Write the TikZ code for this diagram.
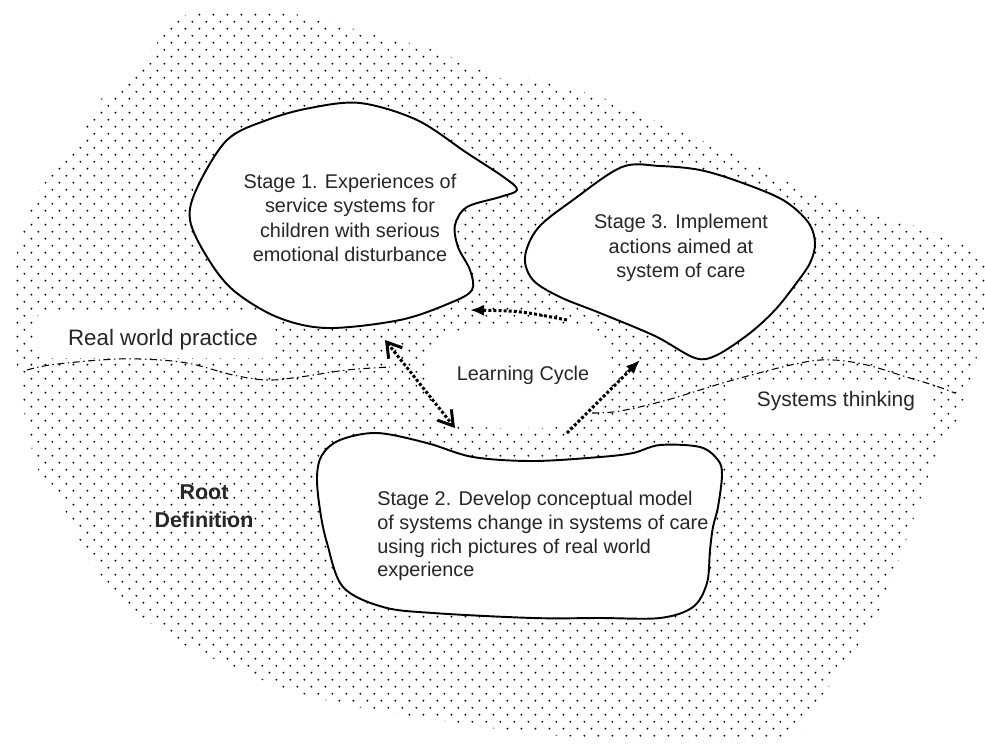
\documentclass[tikz,border=0pt]{standalone}
\usepackage{fontspec}
\setmainfont{Liberation Sans}
\usetikzlibrary{arrows.meta,patterns}

% trame de points en quinconce
\pgfdeclarepatternformonly{pointilles}{\pgfqpoint{0pt}{0pt}}{\pgfqpoint{8.22pt}{8.16pt}}{\pgfqpoint{8.22pt}{8.16pt}}{%
  \pgfpathcircle{\pgfqpoint{2pt}{2pt}}{0.6pt}%
  \pgfpathcircle{\pgfqpoint{6.11pt}{6.08pt}}{0.6pt}%
  \pgfusepath{fill}}

\begin{document}
\begin{tikzpicture}[x=0.02cm,y=-0.02cm]
\tikzset{
	bulle/.style={draw=black, fill=white, line width=1.1pt},
	texte/.style={font=\fontsize{11.3pt}{13.9pt}\selectfont, text=black!85, inner sep=0pt, align=center},
	fleche/.style={line width=1.7pt, dash pattern=on 1.7pt off 1.2pt},
	frontiere/.style={line width=0.6pt, dash pattern=on 4pt off 2pt on 0.8pt off 2pt},
}
\useasboundingbox (0,0) rectangle (985,745);

 % la zone pointillée
  \fill[pattern=pointilles, pattern color=black] plot[smooth cycle, tension=0.55] coordinates {
    (193,13) (293,14) (350,28) (433,50) (500,78) (530,79) (600,97) (660,123) (740,157)
    (820,197) (927,230) (983,258) (985,300) (980,345) (957,420) (937,453) (920,500)
    (898,563) (878,613) (848,660) (813,707) (783,738) (667,741) (550,735) (450,722)
    (347,705) (283,688) (233,667) (180,643) (140,615) (110,587) (80,543) (57,493)
    (37,467) (22,400) (13,330) (13,277) (20,240) (33,200) (57,167) (80,137) (100,100)
    (130,80) (157,43)};

  % les trous blancs
  \fill[white] plot[smooth cycle, tension=0.6] coordinates {
    (425,375) (440,340) (480,326) (540,324) (595,332) (612,375) (595,415) (540,428) (475,426) (440,412)};
  \fill[white, rounded corners=4] (37,312) rectangle (273,358);
  \fill[white, rounded corners=4] (727,380) rectangle (930,432);

  % les trois étapes
  \draw[bulle] plot[smooth cycle, tension=0.55] coordinates {
    (360,103) (417,120) (467,153) (505,178) (517,190) (500,197) (467,207) (455,225)
    (458,247) (470,270) (472,290) (450,303) (400,320) (327,328) (277,317) (233,290)
    (207,257) (190,220) (197,188) (227,140) (267,120) (310,108)};
  \draw[bulle] plot[smooth cycle, tension=0.55] coordinates {
    (622,167) (660,166) (700,170) (740,182) (783,200) (808,222) (815,243) (810,263)
    (795,285) (775,310) (750,333) (717,355) (695,358) (655,336) (600,313) (560,297)
    (533,280) (525,257) (538,228) (573,200)};
  \draw[bulle] plot[smooth cycle, tension=0.55] coordinates {
    (317,477) (322,455) (340,440) (377,433) (427,443) (473,457) (533,461) (600,457)
    (633,453) (660,445) (700,447) (718,460) (722,475) (718,507) (713,527) (710,550)
    (707,583) (693,607) (660,618) (600,618) (533,618) (433,613) (383,607) (343,587)
    (327,543) (320,510)};

  % les frontières
  \draw[frontiere] plot[smooth, tension=0.6] coordinates {
    (27,370) (50,365) (100,360) (140,359) (187,363) (233,375) (267,380) (300,377) (347,370) (390,367)};
  \draw[frontiere] plot[smooth, tension=0.6] coordinates {
    (592,413) (620,411) (667,400) (733,380) (800,363) (833,360) (867,365) (900,375) (933,385) (955,393)};

% du texte
  \node[texte] (etape1) at (350,218) {Stage 1. Experiences of\\service systems for\\children with serious\\emotional disturbance};
  \node[texte] (etape3) at (681,248) {Stage 3. Implement\\actions aimed at\\system of care};
  \node[texte, align=left, anchor=west, font=\fontsize{11.3pt}{13.6pt}\selectfont] (etape2) at (377,536)
    {Stage 2. Develop conceptual model\\of systems change in systems of care\\using rich pictures of real world\\experience};
  \node[texte] (cycle) at (523,375) {Learning Cycle};
  \node[texte, font=\fontsize{12.7pt}{14pt}\selectfont] (pratique) at (163,340) {Real world practice};
  \node[texte, font=\fontsize{11.9pt}{14pt}\selectfont] (pensee) at (836,401) {Systems thinking};
  \node[texte, font=\bfseries\fontsize{12.2pt}{15.9pt}\selectfont] (racine) at (204,506) {Root\\Definition};

  % les flèches du cycle
  \coordinate (f1a) at (567,320);
  \coordinate (f1b) at (470,310);
  \coordinate (f2a) at (385,340);
  \coordinate (f2b) at (455,428);
  \coordinate (f3a) at (567,433);
  \coordinate (f3b) at (640,360);
  \draw[fleche, -{Latex[length=8pt,width=6.5pt]}] (f1a) .. controls (520,311) .. (f1b);
  \draw[fleche, {Straight Barb[length=8pt,width=10pt]}-{Straight Barb[length=8pt,width=10pt]}] (f2a) -- (f2b);
  \draw[fleche, -{Latex[length=8pt,width=6.5pt]}] (f3a) -- (f3b);
\end{tikzpicture}
\end{document}
